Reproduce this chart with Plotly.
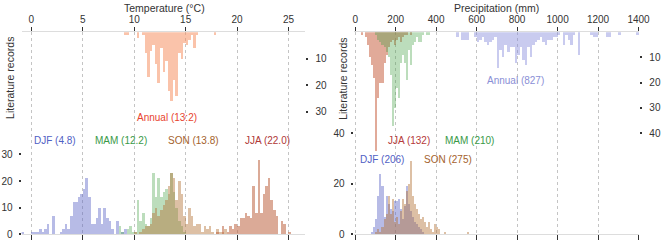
import numpy as np
import plotly.graph_objects as go

# ---------------- DATA ----------------
# Temperature histograms (bin width 0.25 °C), counts of literature records
temp_bin = 0.25
djf_t_start = -1.0
djf_t = [1, 0, 0, 0, 1, 1, 1, 2, 1, 2, 4, 0, 7, 0, 0, 1, 2, 4, 2, 7,
         12, 12, 14, 15, 17, 21, 14, 4, 4, 6, 10, 4, 10, 6, 5, 2, 0, 5, 0, 1, 2]
mam_t_start = 8.5
mam_t = [3, 1, 0, 2, 3, 1, 1, 13, 5, 8, 4, 3, 6, 23, 14, 21, 14, 16, 17, 15,
         23, 16, 10, 5, 3, 1]
son_t_start = 10.0
son_t = [1, 0, 1, 2, 3, 3, 4, 8, 10, 7, 9, 11, 13, 18, 23, 21, 13, 20, 15, 7,
         4, 10, 7, 3, 4, 4, 1, 3, 2, 3, 1, 0, 2, 1, 1, 2]
jja_t_start = 18.0
jja_t = [1, 0, 3, 0, 1, 3, 2, 4, 3, 6, 6, 8, 7, 6, 18, 8, 28, 8, 15, 18,
         21, 13, 9, 7, 0, 5, 4, 0, 1]
ann_t_start = 9.0
ann_t = [1, 1, 0, 0, 0, 2, 0, 1, 8, 17, 7, 5, 12, 19, 6, 15, 11, 22, 26, 18,
         24, 8, 10, 4, 5, 3, 1, 6, 1, 0, 0, 0, 0, 0, 0, 1]

# Precipitation histograms (seasonal bins 10 mm, annual bins 12.5 mm)
prec_bin = 10
ann_prec_bin = 12.5
jja_p_start = 30
jja_p = [1, 0, 2, 5, 10, 13, 18, 47, 26, 20, 20, 12, 9, 6, 4, 3, 5, 3, 2, 4,
         2, 1, 1, 0, 1]
mam_p_start = 100
mam_p = [1, 3, 4, 5, 6, 8, 10, 17, 37, 30, 22, 26, 12, 9, 12, 19, 7, 13, 5, 4,
         2, 4, 4, 1, 0, 1, 1]
djf_p_start = 80
djf_p = [1, 3, 6, 15, 24, 19, 7, 15, 12, 10, 9, 13, 13, 14, 10, 6, 11, 19, 12, 9,
         7, 5, 4, 3, 2, 1]
son_p_start = 100
son_p = [1, 2, 1, 3, 6, 8, 15, 8, 14, 5, 7, 4, 9, 14, 12, 17, 20, 29, 15, 12,
         10, 8, 6, 7, 5, 3, 5, 2, 1, 4, 3, 2, 0, 0, 1, 0, 0, 0, 0, 0, 0, 0, 0, 0, 0, 1]
ann_p_start = 500
ann_p = [2, 0, 3, 3, 3, 0, 0, 2, 4, 3, 2, 4, 5, 4, 3, 2, 14, 7, 10, 5,
         8, 6, 6, 12, 9, 6, 11, 13, 6, 10, 5, 4, 3, 2, 4, 5, 3, 3, 2, 2,
         1, 0, 5, 1, 3, 5, 1, 0, 9, 0, 0, 0, 0, 1, 2, 2, 0, 0, 0, 2,
         2, 0, 0, 0, 1, 0, 0, 0, 0, 0, 0, 1]

temp_ticks = [0, 5, 10, 15, 20, 25]
prec_ticks = [0, 200, 400, 600, 800, 1000, 1200, 1400]

# ---------------- STYLE ----------------
W, H = 669, 248
FONT = "Liberation Sans, Arial, sans-serif"
C_DJF = "rgba(95,105,200,0.45)"
C_MAM = "rgba(70,160,70,0.36)"
C_SON = "rgba(180,115,55,0.45)"
C_JJA = "rgba(190,100,65,0.55)"
C_ANN_T = "rgba(245,145,100,0.55)"
C_ANN_P = "rgba(135,140,220,0.45)"
C_JJA_P = "rgba(200,100,70,0.55)"


def px2x(p):
    return p / W


def px2y(p):
    return 1 - p / H


def bars(counts, start, w, color, xa, ya):
    x = start + w * np.arange(len(counts))
    return go.Bar(x=x, y=counts, width=w, offset=0, marker=dict(color=color, line=dict(width=0)),
                  xaxis=xa, yaxis=ya, showlegend=False, hoverinfo="skip")


fig = go.Figure()
# Left panel: bottom (upward)
fig.add_trace(bars(djf_t, djf_t_start, temp_bin, C_DJF, "x", "y"))
fig.add_trace(bars(mam_t, mam_t_start, temp_bin, C_MAM, "x", "y"))
fig.add_trace(bars(son_t, son_t_start, temp_bin, C_SON, "x", "y"))
fig.add_trace(bars(jja_t, jja_t_start, temp_bin, C_JJA, "x", "y"))
# Left panel: top (downward)
fig.add_trace(bars(ann_t, ann_t_start, temp_bin, C_ANN_T, "x3", "y2"))
# Right panel: bottom
fig.add_trace(bars(djf_p, djf_p_start, prec_bin, C_DJF, "x2", "y3"))
fig.add_trace(bars(son_p, son_p_start, prec_bin, C_SON, "x2", "y3"))
# Right panel: top
fig.add_trace(bars(jja_p, jja_p_start, prec_bin, C_JJA_P, "x4", "y4"))
fig.add_trace(bars(mam_p, mam_p_start, prec_bin, C_MAM, "x4", "y4"))
fig.add_trace(bars(ann_p, ann_p_start, ann_prec_bin, C_ANN_P, "x4", "y4"))

LD = [px2x(21), px2x(310)]
RD = [px2x(359), px2x(650)]
YD = [px2y(240), px2y(33)]
TR = [-0.95, 26.65]
PR = [-8, 1404]

tickfont = dict(family=FONT, size=10, color="#333")
base_x = dict(showticklabels=False, ticks="outside", ticklen=5, tickcolor="#333", tickwidth=1,
              showgrid=True, gridcolor="#c4c4c4", griddash="dot", gridwidth=1,
              showline=True, linecolor="#ddd", linewidth=1, zeroline=False, fixedrange=True)
top_x = dict(side="top", showticklabels=True, ticks="outside", ticklen=4, tickcolor="#333",
             tickfont=tickfont, showgrid=False, showline=True, linecolor="#ddd", zeroline=False)
yl = dict(ticks="outside", ticklen=2, tickcolor="#333", tickwidth=2, tickfont=tickfont,
          showgrid=False, zeroline=False, showline=False, ticklabelstandoff=4)
yr = dict(yl, ticklabelstandoff=5)

fig.update_layout(
    width=W, height=H, margin=dict(l=0, r=0, t=0, b=0),
    paper_bgcolor="white", plot_bgcolor="white",
    barmode="overlay", bargap=0,
    font=dict(family=FONT, size=10, color="#333"),
    xaxis=dict(domain=LD, range=TR, tickvals=temp_ticks, anchor="y", **base_x),
    xaxis3=dict(overlaying="x", range=TR, tickvals=temp_ticks, anchor="y", **top_x),
    yaxis=dict(domain=YD, range=[0, 76], tickvals=[0, 10, 20, 30], anchor="x", side="left", **yl),
    yaxis2=dict(overlaying="y", range=[76, 0], tickvals=[10, 20, 30], anchor="x3", side="right", **yr),
    xaxis2=dict(domain=RD, range=PR, tickvals=prec_ticks, anchor="y3", **base_x),
    xaxis4=dict(overlaying="x2", range=PR, tickvals=prec_ticks, anchor="y3", **top_x),
    yaxis3=dict(domain=YD, range=[0, 80], tickvals=[0, 20, 40], anchor="x2", side="left", **yl),
    yaxis4=dict(overlaying="y3", range=[80, 0], tickvals=[10, 20, 30, 40], anchor="x4", side="right", **yr),
)


def ann(text, x, y, color="#333", angle=0, size=10):
    fig.add_annotation(text=text, x=px2x(x), y=px2y(y), xref="paper", yref="paper",
                       showarrow=False, textangle=angle, xanchor="center", yanchor="middle",
                       font=dict(family=FONT, size=size, color=color))


ann("Temperature (°C)", 166, 8, size=10.5)
ann("Precipitation (mm)", 505, 8, size=10.5)
ann("Literature records", 9, 80, angle=-90, size=10.5)
ann("Literature records", 348, 81, angle=-90, size=10.5)

ann("Annual (13:2)", 169, 120, "#e8442f")
ann("DJF (4.8)", 55, 144, "#5060c4")
ann("MAM (12.2)", 122, 144, "#3a9a48")
ann("SON (13.8)", 196, 144, "#a4622c")
ann("JJA (22.0)", 271, 144, "#b03838")

ann("Annual (827)", 524, 82, "#8a8fd6")
ann("JJA (132)", 415, 144, "#b53a3a")
ann("MAM (210)", 477, 144, "#3a9a48")
ann("DJF (206)", 388, 163, "#5060c4")
ann("SON (275)", 455, 163, "#a4622c")

fig.write_html("out.html", config={"displayModeBar": False, "staticPlot": True},
               post_script="document.body.style.margin='0';document.body.style.overflow='hidden';")
